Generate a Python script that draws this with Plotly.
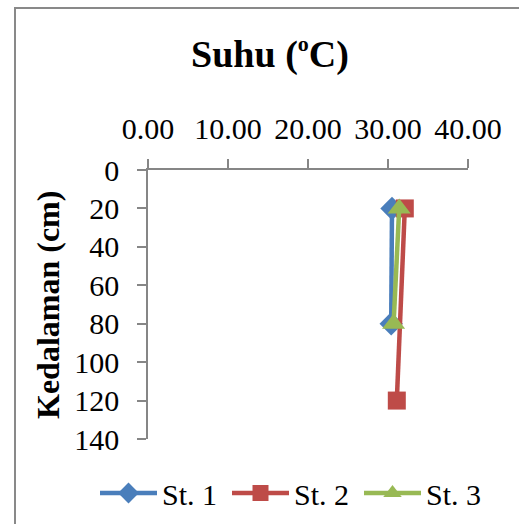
import plotly.graph_objects as go

# Data
st1_temp = [30.5, 30.4]
st1_depth = [20, 80]
st2_temp = [32.1, 31.1]
st2_depth = [20, 120]
st3_temp = [31.4, 30.7]
st3_depth = [20, 80]

x_ticks = [0, 10, 20, 30, 40]
y_ticks = [0, 20, 40, 60, 80, 100, 120, 140]

FONT = "Liberation Serif, Times New Roman, serif"
GRAY = "#868686"

fig = go.Figure()
fig.add_trace(go.Scatter(x=st1_temp, y=st1_depth, name="St. 1", mode="lines+markers",
                         line=dict(color="#4A7EBB", width=4.5),
                         marker=dict(symbol="diamond", size=18, color="#4A7EBB")))
fig.add_trace(go.Scatter(x=st2_temp, y=st2_depth, name="St. 2", mode="lines+markers",
                         line=dict(color="#BE4B48", width=4.5),
                         marker=dict(symbol="square", size=18, color="#BE4B48")))
fig.add_trace(go.Scatter(x=st3_temp, y=st3_depth, name="St. 3", mode="lines+markers",
                         line=dict(color="#98B954", width=4.5),
                         marker=dict(symbol="triangle-up", size=20, color="#98B954")))

W, H = 519, 524
L, R, T, B = 148, 51, 170, 85
pw = W - L - R
ph = H - T - B

def px_x(p):
    return (p - L) / pw

def px_y(p):
    return (H - B - p) / ph

fig.update_layout(
    width=W, height=H,
    margin=dict(l=L, r=R, t=T, b=B, autoexpand=False),
    paper_bgcolor="white", plot_bgcolor="white",
    font=dict(family=FONT, color="black", size=30),
    title=dict(text="<b>Suhu (<sup><span style='font-size:22px'>o</span></sup>C)</b>",
               font=dict(size=38, family=FONT),
               x=270 / W, xref="container", xanchor="center",
               y=1 - 54 / H, yref="container", yanchor="middle"),
    showlegend=True,
    legend=dict(orientation="h", xref="paper", yref="paper",
                x=px_x(95), xanchor="left", y=px_y(493), yanchor="middle",
                font=dict(size=30, family=FONT), itemwidth=57,
                entrywidth=60, entrywidthmode="pixels",
                bgcolor="rgba(0,0,0,0)", tracegroupgap=0),
    xaxis=dict(side="top", range=[0, 40], tickvals=x_ticks, tickformat=".2f",
               showgrid=False, zeroline=False, showline=True, linecolor=GRAY, linewidth=1.5,
               ticks="outside", ticklen=9, tickcolor=GRAY, tickwidth=1.5,
               tickfont=dict(size=30, family=FONT), ticklabelstandoff=8),
    yaxis=dict(range=[140, 0], tickvals=y_ticks,
               showgrid=False, zeroline=False, showline=True, linecolor=GRAY, linewidth=1.5,
               ticks="outside", ticklen=9, tickcolor=GRAY, tickwidth=1.5,
               tickfont=dict(size=30, family=FONT), ticklabelstandoff=12),
    annotations=[dict(text="<b>Kedalaman (cm)</b>", textangle=-90, showarrow=False,
                      xref="paper", yref="paper", x=px_x(48), y=px_y(305),
                      xanchor="center", yanchor="middle",
                      font=dict(size=32, family=FONT))],
    shapes=[dict(type="rect", xref="paper", yref="paper",
                 x0=px_x(15), x1=px_x(600), y0=px_y(600), y1=px_y(8),
                 line=dict(color="#898989", width=2), fillcolor="rgba(0,0,0,0)",
                 layer="below")],
)

fig.write_html("out.html")
